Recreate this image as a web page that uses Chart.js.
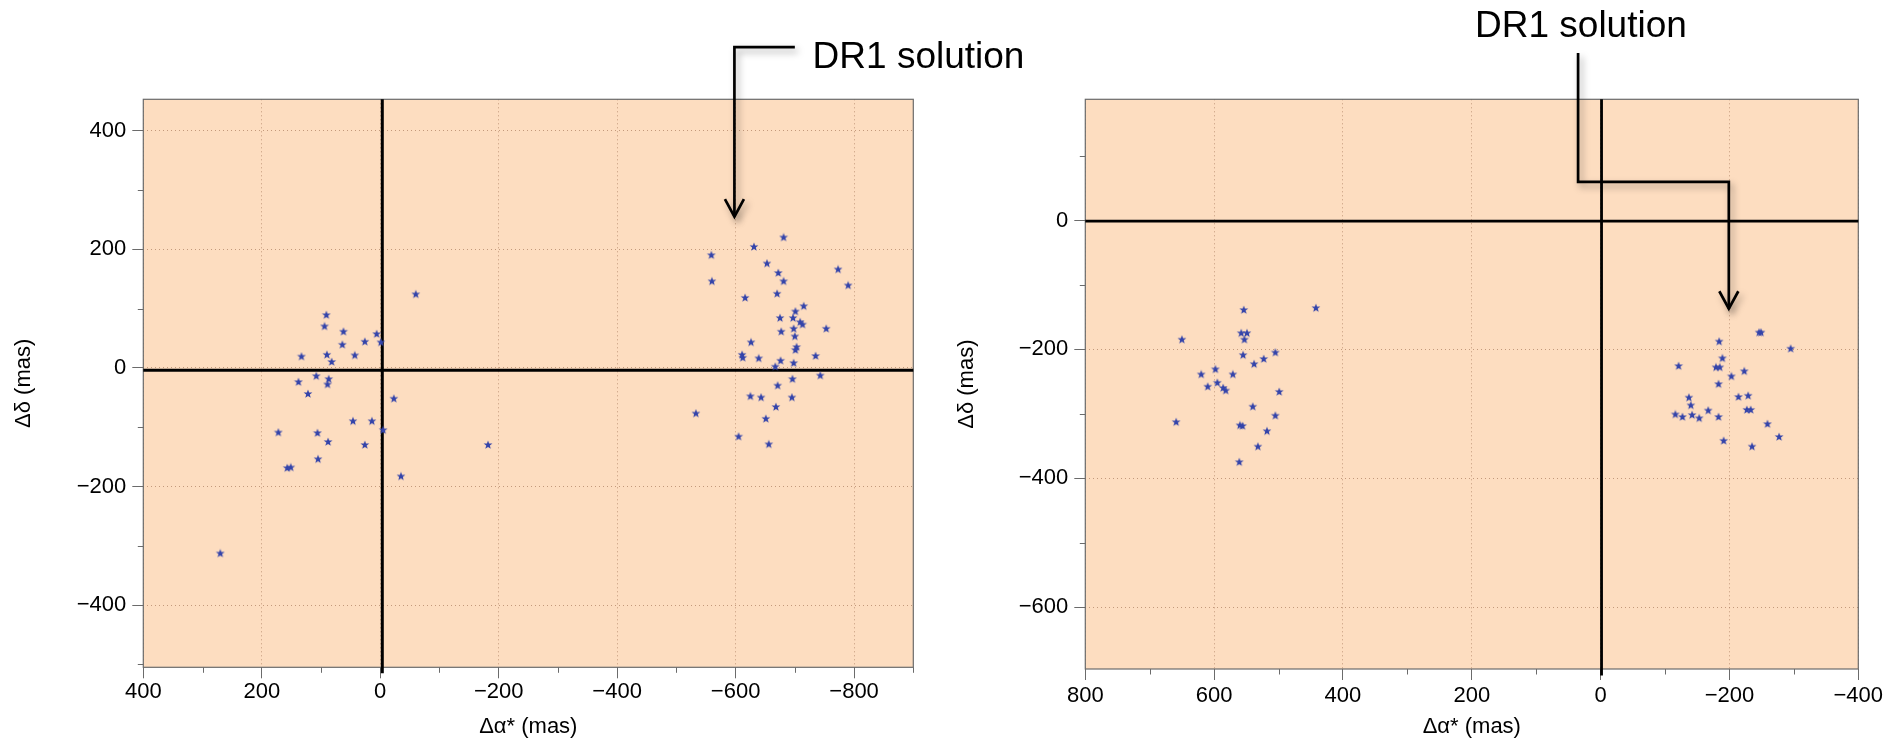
<!DOCTYPE html>
<html>
<head>
<meta charset="utf-8">
<script src="https://cdn.jsdelivr.net/npm/chart.js@4.4.1/dist/chart.umd.min.js"></script>
<style>
  html, body { margin: 0; padding: 0; background: #fff; }
  #wrap { position: relative; width: 1889px; height: 742px; }
  canvas { position: absolute; left: 0; top: 0; }
</style>
</head>
<body>
<div id="wrap">
  <canvas id="leftChart" width="1889" height="742"></canvas>
  <canvas id="rightChart" width="1889" height="742"></canvas>
</div>
<script>
// left panel, star offsets in mas
const leftX = [-60, 91, 94, 62, 6, 26, -1, 64, 133, 90, 43, 82, 108, 138, 87, 89, 122, -23, 46, 14,
  -5, 172, 106, 88, 26, 105, 157, 151, -35, -182, 270,
  -681, -631, -559, -653, -672, -773, -560, -681, -790, -670, -616, -715, -701, -675, -697, -709,
  -713, -753, -698, -677, -700, -626, -703, -701, -611, -612, -639, -735, -676, -698, -667, -743,
  -696, -671, -625, -643, -695, -668, -533, -651, -605, -656];
const leftY = [124, 89, 70, 61, 57, 44, 43, 39, 19, 22, 21, 10, -14, -24, -19, -28, -44, -52, -90, -90,
  -105, -109, -110, -125, -130, -154, -169, -168, -183, -130, -313,
  220, 204, 190, 176, 160, 166, 146, 146, 139, 125, 118, 104, 95, 84, 84, 77,
  73, 66, 66, 61, 53, 43, 35, 30, 22, 17, 16, 20, 12, 8, 2, -13,
  -19, -30, -48, -50, -50, -66, -77, -86, -116, -129];

// right panel
const rightX = [554, 442, 650, 558, 549, 553, 555, 505, 523, 538, 598, 620, 571, 595, 610, 586, 582,
  499, 540, 505, 659, 560, 556, 518, 532, 561,
  -246, -249, -184, -295, -189, -179, -185, -121, -223, -203, -183, -214, -229, -137, -140, -167,
  -227, -233, -116, -127, -142, -153, -183, -259, -277, -191, -235];
const rightY = [-139, -136, -185, -175, -175, -185, -209, -205, -215, -223, -231, -239, -239, -252, -258,
  -260, -264, -266, -289, -303, -313, -318, -319, -327, -351, -375,
  -174, -174, -188, -199, -214, -228, -228, -226, -234, -242, -254, -274, -272, -275, -287, -295,
  -294, -294, -301, -305, -302, -307, -305, -316, -336, -342, -351];

// axis limits [min, max]
const leftXRange = [-900, 400];
const leftYRange = [-505, 453];
const rightXRange = [-400, 800];
const rightYRange = [-696, 188];

// reference cross (x, y) drawn as black lines
const leftCross = [-3.5, -3.8];
const rightCross = [-1.4, -1.1];

// "DR1 solution" pointers, in data units
const leftPointer = { path: [[-700, 541], [-598, 541], [-598, 255]], textAt: [-730, 506] };
const rightPointer = { path: [[35, 260], [35, 60], [-199, 60], [-199, -137]], textAt: [195, 284] };
const pointerText = 'DR1 solution';

const FONT = '"Liberation Sans", Arial, Helvetica, sans-serif';
Chart.defaults.font.family = FONT;
Chart.defaults.color = '#000';

const peach = 'rgb(253, 221, 192)';
const gridColor = 'rgba(175, 130, 100, 0.75)';
const frameColor = '#6b6b6b';
const starColor = '#3444aa';

function makeStar(size, color) {
  const c = document.createElement('canvas');
  c.width = size;
  c.height = size;
  const ctx = c.getContext('2d');
  const r = size / 2 - 0.4;
  const r2 = r * 0.42;
  ctx.beginPath();
  for (let i = 0; i < 10; i++) {
    const a = -Math.PI / 2 + i * Math.PI / 5;
    const rr = i % 2 ? r2 : r;
    ctx.lineTo(size / 2 + rr * Math.cos(a), size / 2 + rr * Math.sin(a));
  }
  ctx.closePath();
  ctx.fillStyle = color;
  ctx.fill();
  return c;
}
const starImg = makeStar(10, starColor);

function tickLabel(v) {
  return v < 0 ? '\u2212' + Math.abs(v) : String(v);
}

// background, frame, minor ticks and the pointer arrow
const panelDeco = {
  id: 'panelDeco',
  beforeDraw(chart, args, opts) {
    const { ctx, chartArea: a } = chart;
    ctx.save();
    ctx.fillStyle = peach;
    ctx.fillRect(a.left, a.top, a.right - a.left, a.bottom - a.top);
    ctx.restore();
  },
  beforeDatasetsDraw(chart, args, opts) {
    const { ctx, chartArea: a, scales } = chart;
    ctx.save();
    ctx.strokeStyle = frameColor;
    ctx.lineWidth = 1.2;
    ctx.strokeRect(a.left, a.top, a.right - a.left, a.bottom - a.top);

    // minor ticks at the odd hundreds
    ctx.lineWidth = 1;
    ctx.beginPath();
    for (let v = Math.ceil(scales.x.min / 100) * 100; v <= scales.x.max; v += 100) {
      if (v % 200 === 0) continue;
      const px = Math.round(scales.x.getPixelForValue(v)) + 0.5;
      ctx.moveTo(px, a.bottom);
      ctx.lineTo(px, a.bottom + 5.5);
    }
    for (let v = Math.ceil(scales.y.min / 100) * 100; v <= scales.y.max; v += 100) {
      if (v % 200 === 0) continue;
      const py = Math.round(scales.y.getPixelForValue(v)) + 0.5;
      ctx.moveTo(a.left, py);
      ctx.lineTo(a.left - 5.5, py);
    }
    ctx.stroke();
    ctx.restore();
  },
  afterDraw(chart, args, opts) {
    const p = opts.pointer;
    if (!p) return;
    const { ctx, scales } = chart;
    const pts = p.path.map(q => [scales.x.getPixelForValue(q[0]), scales.y.getPixelForValue(q[1])]);
    ctx.save();
    ctx.shadowColor = 'rgba(0, 0, 0, 0.35)';
    ctx.shadowBlur = 7;
    ctx.shadowOffsetX = 3;
    ctx.shadowOffsetY = 4;
    ctx.strokeStyle = '#000';
    ctx.lineWidth = 2.7;
    ctx.lineJoin = 'miter';
    ctx.beginPath();
    pts.forEach((q, i) => (i ? ctx.lineTo(q[0], q[1]) : ctx.moveTo(q[0], q[1])));
    ctx.stroke();
    const tip = pts[pts.length - 1];
    ctx.beginPath();
    ctx.moveTo(tip[0] - 9.5, tip[1] - 17.5);
    ctx.lineTo(tip[0], tip[1]);
    ctx.lineTo(tip[0] + 9.5, tip[1] - 17.5);
    ctx.stroke();
    ctx.shadowColor = 'transparent';
    ctx.fillStyle = '#000';
    ctx.font = '37px ' + FONT;
    ctx.textBaseline = 'alphabetic';
    ctx.textAlign = 'left';
    ctx.fillText(pointerText,
      scales.x.getPixelForValue(p.textAt[0]),
      scales.y.getPixelForValue(p.textAt[1]));
    ctx.restore();
  }
};

function makeScales(xr, yr, lay) {
  return {
    x: {
      type: 'linear',
      reverse: true,
      min: xr[0],
      max: xr[1],
      afterFit: (s) => { s.height = lay.xAxisH; },
      ticks: {
        stepSize: 200, includeBounds: false, autoSkip: false, maxRotation: 0,
        padding: lay.xPad, color: '#000', font: { size: 22 }, callback: tickLabel
      },
      grid: { color: gridColor, lineWidth: 1, tickLength: 11, tickColor: frameColor, tickWidth: 1 },
      border: { display: false, dash: [1, 3] },
      title: { display: true, text: 'Δα* (mas)', color: '#000', font: { size: 22 }, padding: { top: 0, bottom: 2 } }
    },
    y: {
      type: 'linear',
      position: 'left',
      min: yr[0],
      max: yr[1],
      afterFit: (s) => { s.width = lay.yAxisW; },
      ticks: {
        stepSize: 200, includeBounds: false, autoSkip: false,
        padding: 6, color: '#000', font: { size: 22 }, callback: tickLabel
      },
      grid: { color: gridColor, lineWidth: 1, tickLength: 11, tickColor: frameColor, tickWidth: 1 },
      border: { display: false, dash: [1, 3] },
      title: { display: true, text: 'Δδ (mas)', color: '#000', font: { size: 22 }, padding: { top: 11, bottom: 0 } }
    }
  };
}

function makePanel(id, xs, ys, xr, yr, cross, lineW, pointer, lay) {
  const stars = xs.map((x, i) => ({ x: x, y: ys[i] }));
  return new Chart(document.getElementById(id), {
    type: 'scatter',
    data: {
      datasets: [
        {
          data: stars, pointStyle: starImg, pointRadius: 5, pointHoverRadius: 5, order: 1
        },
        {
          data: [{ x: xr[1], y: cross[1] }, { x: xr[0], y: cross[1] }],
          showLine: true, borderColor: '#000', borderWidth: lineW, pointRadius: 0, order: 2, clip: false
        },
        {
          data: [{ x: cross[0], y: yr[1] }, { x: cross[0], y: yr[0] - 10 }],
          showLine: true, borderColor: '#000', borderWidth: lineW, pointRadius: 0, order: 2, clip: false
        }
      ]
    },
    options: {
      responsive: false,
      animation: false,
      events: [],
      layout: { padding: lay.padding },
      scales: makeScales(xr, yr, lay),
      plugins: {
        legend: { display: false },
        tooltip: { enabled: false },
        panelDeco: { pointer: pointer }
      }
    },
    plugins: [panelDeco]
  });
}

makePanel('leftChart', leftX, leftY, leftXRange, leftYRange, leftCross, 3, leftPointer, {
  padding: { left: 0, top: 99.3, right: 975.7, bottom: 0 },
  xAxisH: 74.7, yAxisW: 143.3, xPad: 0.5
});

makePanel('rightChart', rightX, rightY, rightXRange, rightYRange, rightCross, 2.8, rightPointer, {
  padding: { left: 942.5, top: 99.3, right: 30.7, bottom: 0 },
  xAxisH: 73, yAxisW: 142.8, xPad: 2.5
});
</script>
</body>
</html>
